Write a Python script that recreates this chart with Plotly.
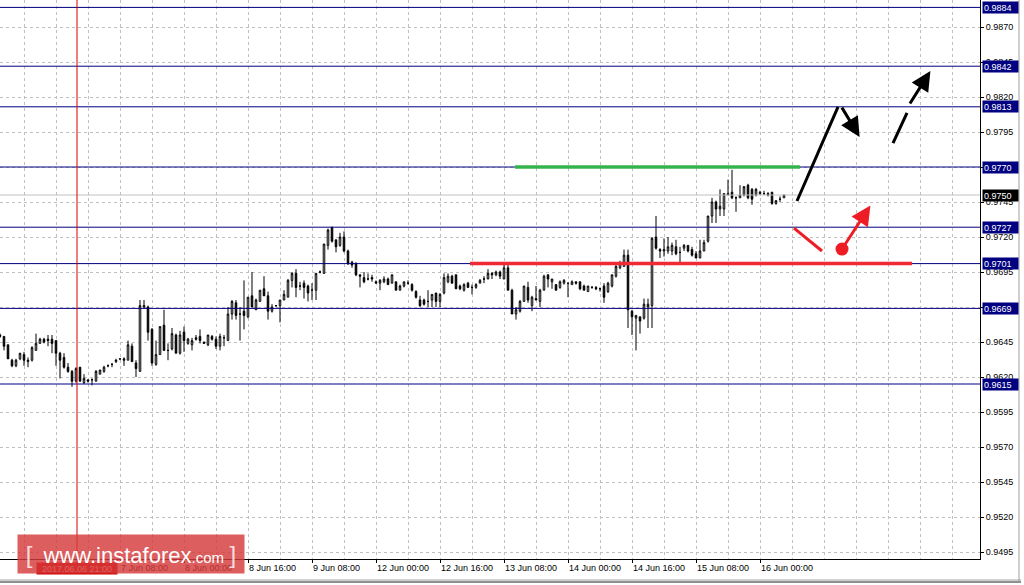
import plotly.graph_objects as go

# ---------------- data (H1 bars, index 0 = 6 Jun 00:00, weekend skipped) ----------------
bar_index = list(range(2, 199))

opens = [
    0.9650, 0.9649, 0.9643, 0.9632, 0.9628, 0.9633, 0.9636, 0.9631, 0.9632, 0.9639,
    0.9644, 0.9647, 0.9647, 0.9647, 0.9646, 0.9637, 0.9634, 0.9627, 0.9624, 0.9617,
    0.9627, 0.9616, 0.9618, 0.9618, 0.9617, 0.9622, 0.9624, 0.9628, 0.9629, 0.9631,
    0.9633, 0.9633, 0.9632, 0.9642, 0.9630, 0.9624, 0.9670, 0.9670, 0.9654, 0.9629,
    0.9636, 0.9657, 0.9639, 0.9640, 0.9650, 0.9637, 0.9652, 0.9644, 0.9643, 0.9648,
    0.9649, 0.9645, 0.9643, 0.9649, 0.9647, 0.9642, 0.9648, 0.9646, 0.9665, 0.9673,
    0.9665, 0.9667, 0.9663, 0.9678, 0.9668, 0.9674, 0.9683, 0.9678, 0.9667, 0.9671,
    0.9671, 0.9675, 0.9677, 0.9689, 0.9694, 0.9685, 0.9687, 0.9685, 0.9682, 0.9682,
    0.9695, 0.9694, 0.9714, 0.9727, 0.9718, 0.9714, 0.9720, 0.9710, 0.9702, 0.9701,
    0.9693, 0.9691, 0.9690, 0.9691, 0.9688, 0.9687, 0.9688, 0.9690, 0.9687,
    0.9688, 0.9682, 0.9685, 0.9687, 0.9686, 0.9681, 0.9675, 0.9675, 0.9674, 0.9675,
    0.9680, 0.9674, 0.9680, 0.9688, 0.9692, 0.9693, 0.9685, 0.9682, 0.9687, 0.9684,
    0.9684, 0.9687, 0.9690, 0.9690, 0.9694, 0.9693, 0.9695, 0.9690, 0.9698, 0.9682,
    0.9665, 0.9667, 0.9674, 0.9684, 0.9671, 0.9676, 0.9674, 0.9682, 0.9693, 0.9688,
    0.9686, 0.9684, 0.9687, 0.9687, 0.9686, 0.9688, 0.9688, 0.9685, 0.9681,
    0.9684, 0.9684, 0.9683, 0.9685, 0.9681, 0.9685, 0.9692, 0.9698, 0.9699, 0.9707,
    0.9667, 0.9662, 0.9663, 0.9662, 0.9670, 0.9671, 0.9720, 0.9711, 0.9710, 0.9710,
    0.9710, 0.9713, 0.9709, 0.9712, 0.9714, 0.9711, 0.9708, 0.9705, 0.9710, 0.9717,
    0.9735, 0.9745, 0.9740, 0.9740, 0.9750, 0.9752, 0.9748, 0.9748, 0.9750, 0.9757,
    0.9754, 0.9750, 0.9751, 0.9751, 0.9751, 0.9752, 0.9744, 0.9747, 0.9748,
]

highs = [
    0.9651, 0.9649, 0.9643, 0.9633, 0.9633, 0.9637, 0.9638, 0.9634, 0.9642, 0.9651,
    0.9648, 0.9648, 0.9650, 0.9650, 0.9646, 0.9638, 0.9637, 0.9630, 0.9625, 0.9627,
    0.9627, 0.9622, 0.9618, 0.9619, 0.9625, 0.9625, 0.9628, 0.9629, 0.9630, 0.9633,
    0.9633, 0.9634, 0.9646, 0.9644, 0.9632, 0.9675, 0.9675, 0.9671, 0.9655, 0.9646,
    0.9656, 0.9668, 0.9644, 0.9655, 0.9651, 0.9653, 0.9656, 0.9648, 0.9648, 0.9650,
    0.9654, 0.9645, 0.9650, 0.9650, 0.9649, 0.9651, 0.9650, 0.9670, 0.9675, 0.9675,
    0.9670, 0.9689, 0.9677, 0.9695, 0.9676, 0.9682, 0.9692, 0.9681, 0.9672, 0.9671,
    0.9675, 0.9682, 0.9690, 0.9695, 0.9697, 0.9688, 0.9689, 0.9686, 0.9687, 0.9694,
    0.9696, 0.9715, 0.9726, 0.9727, 0.9718, 0.9723, 0.9724, 0.9711, 0.9703, 0.9702,
    0.9693, 0.9695, 0.9694, 0.9693, 0.9689, 0.9690, 0.9692, 0.9691, 0.9693,
    0.9688, 0.9686, 0.9688, 0.9689, 0.9687, 0.9682, 0.9678, 0.9676, 0.9682, 0.9679,
    0.9680, 0.9680, 0.9694, 0.9694, 0.9693, 0.9693, 0.9686, 0.9687, 0.9688, 0.9686,
    0.9687, 0.9690, 0.9692, 0.9697, 0.9695, 0.9696, 0.9696, 0.9700, 0.9700, 0.9683,
    0.9670, 0.9675, 0.9685, 0.9688, 0.9678, 0.9685, 0.9683, 0.9693, 0.9693, 0.9690,
    0.9686, 0.9689, 0.9690, 0.9687, 0.9689, 0.9688, 0.9688, 0.9686, 0.9685,
    0.9685, 0.9685, 0.9684, 0.9687, 0.9688, 0.9693, 0.9701, 0.9703, 0.9711, 0.9711,
    0.9668, 0.9664, 0.9663, 0.9676, 0.9676, 0.9720, 0.9735, 0.9712, 0.9719, 0.9720,
    0.9716, 0.9718, 0.9713, 0.9715, 0.9714, 0.9713, 0.9710, 0.9718, 0.9718, 0.9735,
    0.9748, 0.9746, 0.9754, 0.9751, 0.9761, 0.9768, 0.9749, 0.9757, 0.9756, 0.9758,
    0.9755, 0.9755, 0.9753, 0.9753, 0.9752, 0.9752, 0.9746, 0.9749, 0.9750,
]

lows = [
    0.9648, 0.9639, 0.9633, 0.9627, 0.9627, 0.9632, 0.9628, 0.9627, 0.9631, 0.9639,
    0.9644, 0.9644, 0.9642, 0.9637, 0.9628, 0.9619, 0.9626, 0.9623, 0.9613, 0.9616,
    0.9617, 0.9615, 0.9616, 0.9614, 0.9617, 0.9622, 0.9623, 0.9627, 0.9627, 0.9630,
    0.9632, 0.9628, 0.9632, 0.9631, 0.9620, 0.9624, 0.9669, 0.9646, 0.9628, 0.9628,
    0.9636, 0.9639, 0.9632, 0.9639, 0.9637, 0.9636, 0.9638, 0.9643, 0.9639, 0.9646,
    0.9644, 0.9644, 0.9642, 0.9646, 0.9640, 0.9639, 0.9642, 0.9646, 0.9661, 0.9661,
    0.9646, 0.9654, 0.9662, 0.9670, 0.9668, 0.9674, 0.9678, 0.9661, 0.9666, 0.9670,
    0.9659, 0.9675, 0.9677, 0.9684, 0.9677, 0.9682, 0.9676, 0.9674, 0.9675, 0.9675,
    0.9694, 0.9694, 0.9711, 0.9716, 0.9709, 0.9713, 0.9709, 0.9700, 0.9698, 0.9692,
    0.9684, 0.9687, 0.9689, 0.9688, 0.9687, 0.9682, 0.9687, 0.9686, 0.9687,
    0.9682, 0.9682, 0.9684, 0.9686, 0.9681, 0.9676, 0.9670, 0.9671, 0.9670, 0.9670,
    0.9670, 0.9670, 0.9679, 0.9687, 0.9687, 0.9683, 0.9682, 0.9681, 0.9684, 0.9679,
    0.9683, 0.9687, 0.9687, 0.9690, 0.9690, 0.9692, 0.9690, 0.9690, 0.9682, 0.9665,
    0.9661, 0.9666, 0.9674, 0.9673, 0.9667, 0.9675, 0.9670, 0.9682, 0.9684, 0.9683,
    0.9682, 0.9683, 0.9686, 0.9677, 0.9686, 0.9686, 0.9682, 0.9682, 0.9681,
    0.9683, 0.9682, 0.9681, 0.9673, 0.9680, 0.9684, 0.9691, 0.9697, 0.9699, 0.9655,
    0.9650, 0.9639, 0.9651, 0.9661, 0.9655, 0.9655, 0.9711, 0.9705, 0.9706, 0.9708,
    0.9707, 0.9707, 0.9702, 0.9710, 0.9709, 0.9706, 0.9705, 0.9705, 0.9710, 0.9716,
    0.9730, 0.9730, 0.9735, 0.9735, 0.9750, 0.9747, 0.9738, 0.9748, 0.9749, 0.9747,
    0.9743, 0.9749, 0.9750, 0.9750, 0.9749, 0.9743, 0.9743, 0.9745, 0.9748,
]

closes = [
    0.9649, 0.9642, 0.9633, 0.9628, 0.9632, 0.9637, 0.9632, 0.9632, 0.9641, 0.9644,
    0.9647, 0.9645, 0.9646, 0.9644, 0.9637, 0.9632, 0.9627, 0.9624, 0.9617, 0.9626,
    0.9617, 0.9619, 0.9617, 0.9618, 0.9624, 0.9625, 0.9627, 0.9628, 0.9629, 0.9632,
    0.9633, 0.9632, 0.9643, 0.9631, 0.9626, 0.9671, 0.9671, 0.9652, 0.9630, 0.9636,
    0.9656, 0.9639, 0.9639, 0.9651, 0.9637, 0.9650, 0.9646, 0.9647, 0.9646, 0.9647,
    0.9646, 0.9644, 0.9650, 0.9647, 0.9642, 0.9649, 0.9648, 0.9665, 0.9674, 0.9664,
    0.9665, 0.9664, 0.9677, 0.9670, 0.9675, 0.9682, 0.9678, 0.9667, 0.9670, 0.9671,
    0.9675, 0.9679, 0.9689, 0.9694, 0.9684, 0.9685, 0.9684, 0.9680, 0.9682, 0.9694,
    0.9695, 0.9715, 0.9725, 0.9717, 0.9713, 0.9720, 0.9710, 0.9701, 0.9700, 0.9693,
    0.9692, 0.9688, 0.9690, 0.9690, 0.9687, 0.9689, 0.9690, 0.9686, 0.9693,
    0.9682, 0.9685, 0.9688, 0.9687, 0.9682, 0.9677, 0.9671, 0.9672, 0.9674, 0.9679,
    0.9674, 0.9679, 0.9691, 0.9692, 0.9687, 0.9683, 0.9683, 0.9686, 0.9684, 0.9684,
    0.9686, 0.9689, 0.9690, 0.9694, 0.9693, 0.9695, 0.9692, 0.9698, 0.9682, 0.9665,
    0.9668, 0.9674, 0.9685, 0.9675, 0.9677, 0.9675, 0.9682, 0.9692, 0.9690, 0.9690,
    0.9682, 0.9688, 0.9689, 0.9687, 0.9688, 0.9687, 0.9683, 0.9682, 0.9685,
    0.9684, 0.9683, 0.9683, 0.9677, 0.9687, 0.9693, 0.9699, 0.9701, 0.9707, 0.9668,
    0.9663, 0.9664, 0.9660, 0.9672, 0.9672, 0.9719, 0.9712, 0.9710, 0.9711, 0.9713,
    0.9714, 0.9708, 0.9709, 0.9714, 0.9710, 0.9707, 0.9705, 0.9710, 0.9716, 0.9735,
    0.9745, 0.9740, 0.9742, 0.9751, 0.9751, 0.9748, 0.9748, 0.9750, 0.9756, 0.9748,
    0.9747, 0.9754, 0.9752, 0.9751, 0.9750, 0.9744, 0.9746, 0.9747, 0.9750,
]

# horizontal levels (navy boxes on the price scale)
levels = [0.9884, 0.9842, 0.9813, 0.9770, 0.9727, 0.9701, 0.9669, 0.9615]
bid_price = 0.9750

# price scale ticks
y_ticks = [0.9495, 0.9520, 0.9545, 0.9570, 0.9595, 0.9620, 0.9645, 0.9670,
           0.9695, 0.9720, 0.9745, 0.9770, 0.9795, 0.9820, 0.9845, 0.9870]

# time scale ticks (bar index) and labels
x_tick_index = [32, 48, 64, 80, 96, 112, 128, 144, 160, 176, 192]
x_tick_text = ["7 Jun 08:00", "8 Jun 00:00", "8 Jun 16:00", "9 Jun 08:00",
               "12 Jun 00:00", "12 Jun 16:00", "13 Jun 08:00", "14 Jun 00:00",
               "14 Jun 16:00", "15 Jun 08:00", "16 Jun 00:00"]
first_label_index = 0
first_label_text = "6 Jun 00:00"

crosshair_index = 21.25
crosshair_text = "2017.06.06 21:00"

# drawn analysis objects (bar index, price)
green_seg_x = [130.75, 202.0]
green_seg_y = [0.9770, 0.9770]
red_seg_x = [119.5, 230.0]
red_seg_y = [0.9701, 0.9701]
black_up_x = [201.25, 211.5]
black_up_y = [0.97457, 0.98129]
black_down_arrow = dict(tail=(212.25, 0.98135), tip=(216.9, 0.97915))
dash_seg_x = [225.25, 228.75]
dash_seg_y = [0.97871, 0.98086]
dash_arrow = dict(tail=(229.25, 0.98143), tip=(234.6, 0.98385))
red_down_x = [200.5, 207.5]
red_down_y = [0.97264, 0.97100]
red_dot = (212.5, 0.97114)
red_arrow_tip = (219.6, 0.97425)

# ---------------- figure ----------------
X_RANGE = [2, 247]
Y_RANGE = [0.9490, 0.988929]
GRID = "#c0c0c0"
NAVY = "#000080"
FONT = "Liberation Sans"

fig = go.Figure()

fig.add_trace(go.Candlestick(
    x=bar_index, open=opens, high=highs, low=lows, close=closes,
    increasing=dict(line=dict(color="black", width=1), fillcolor="white"),
    decreasing=dict(line=dict(color="black", width=1), fillcolor="black"),
    whiskerwidth=0, hoverinfo="skip", showlegend=False,
))

# bid line and level lines (full width, drawn through the axis scale)
fig.add_trace(go.Scatter(x=X_RANGE, y=[bid_price, bid_price], mode="lines",
                         line=dict(color="#c0c0c0", width=1), hoverinfo="skip", showlegend=False))
for lev in levels:
    fig.add_trace(go.Scatter(x=X_RANGE, y=[lev, lev], mode="lines",
                             line=dict(color=NAVY, width=1), hoverinfo="skip", showlegend=False))

# analysis lines
fig.add_trace(go.Scatter(x=green_seg_x, y=green_seg_y, mode="lines",
                         line=dict(color="#34b44a", width=3.5), hoverinfo="skip", showlegend=False))
fig.add_trace(go.Scatter(x=red_seg_x, y=red_seg_y, mode="lines",
                         line=dict(color="#ee2a32", width=3.5), hoverinfo="skip", showlegend=False))
fig.add_trace(go.Scatter(x=black_up_x, y=black_up_y, mode="lines",
                         line=dict(color="black", width=3), hoverinfo="skip", showlegend=False))
fig.add_trace(go.Scatter(x=dash_seg_x, y=dash_seg_y, mode="lines",
                         line=dict(color="black", width=3), hoverinfo="skip", showlegend=False))
fig.add_trace(go.Scatter(x=red_down_x, y=red_down_y, mode="lines",
                         line=dict(color="#ee1c24", width=3), hoverinfo="skip", showlegend=False))
fig.add_trace(go.Scatter(x=[red_dot[0]], y=[red_dot[1]], mode="markers",
                         marker=dict(color="#ee1c24", size=13), hoverinfo="skip", showlegend=False))

shapes = []
# crosshair
shapes.append(dict(type="line", xref="x", x0=crosshair_index, x1=crosshair_index,
                   yref="paper", y0=-0.012, y1=1, line=dict(color="#d40000", width=1), layer="above"))
# window frame
shapes.append(dict(type="line", xref="paper", x0=1019 / 980, x1=1019 / 980, yref="paper",
                   y0=1, y1=(559 - 581) / 559, line=dict(color="#a0a0a0", width=1)))
shapes.append(dict(type="line", xref="paper", x0=0, x1=1021 / 980, yref="paper",
                   y0=(559 - 580) / 559, y1=(559 - 580) / 559, line=dict(color="#a0a0a0", width=1)))
shapes.append(dict(type="line", xref="paper", x0=0, x1=1021 / 980, yref="paper",
                   y0=(559 - 582) / 559, y1=(559 - 582) / 559, line=dict(color="#202020", width=1)))

annotations = []
# level boxes
for lev in levels:
    annotations.append(dict(xref="paper", x=1, xanchor="left", xshift=2, yref="y", y=lev,
                            yanchor="middle", text=f"{lev:.4f}", showarrow=False, align="left",
                            bgcolor=NAVY, font=dict(family=FONT, size=9, color="white"),
                            width=33, height=9, borderpad=1))
annotations.append(dict(xref="paper", x=1, xanchor="left", xshift=2, yref="y", y=bid_price,
                        yanchor="middle", text=f"{bid_price:.4f}", showarrow=False, align="left",
                        bgcolor="black", font=dict(family=FONT, size=9, color="white"),
                        width=33, height=9, borderpad=1))
# first partially visible time label
annotations.append(dict(xref="x", x=first_label_index, xanchor="left", xshift=1, yref="paper",
                        y=0, yanchor="top", yshift=-5, text=first_label_text, showarrow=False,
                        font=dict(family=FONT, size=9, color="black")))
# crosshair date box
annotations.append(dict(xref="x", x=crosshair_index, xanchor="center", yref="paper", y=0,
                        yanchor="top", yshift=-3, text=crosshair_text, showarrow=False,
                        bgcolor="#d00000", font=dict(family=FONT, size=9, color="white"),
                        width=78, height=9, borderpad=1))
# arrows
annotations.append(dict(x=black_down_arrow["tip"][0], y=black_down_arrow["tip"][1],
                        ax=black_down_arrow["tail"][0], ay=black_down_arrow["tail"][1],
                        xref="x", yref="y", axref="x", ayref="y", text="", showarrow=True,
                        arrowhead=2, arrowsize=1.3, arrowwidth=3, arrowcolor="black", standoff=0))
annotations.append(dict(x=dash_arrow["tip"][0], y=dash_arrow["tip"][1],
                        ax=dash_arrow["tail"][0], ay=dash_arrow["tail"][1],
                        xref="x", yref="y", axref="x", ayref="y", text="", showarrow=True,
                        arrowhead=2, arrowsize=1.3, arrowwidth=3, arrowcolor="black", standoff=0))
annotations.append(dict(x=red_arrow_tip[0], y=red_arrow_tip[1],
                        ax=red_dot[0], ay=red_dot[1],
                        xref="x", yref="y", axref="x", ayref="y", text="", showarrow=True,
                        arrowhead=2, arrowsize=1.3, arrowwidth=3, arrowcolor="#ee1c24", standoff=0))
# watermark
annotations.append(dict(
    xref="paper", x=17 / 980, xanchor="left", yref="paper", y=(559 - 534) / 559, yanchor="top",
    text=('<span style="font-size:24px;color:rgba(255,255,255,0.8)">[</span>&nbsp;&nbsp;'
          '<span style="font-size:22px">www.instaforex</span>'
          '<span style="font-size:15px">.com</span>&nbsp;'
          '<span style="font-size:24px;color:rgba(255,255,255,0.8)">]</span>'),
    showarrow=False, bgcolor="rgba(214,58,58,0.82)",
    font=dict(family="Liberation Sans", size=20, color="white"),
    width=224, height=36, borderpad=1, align="center", valign="middle"))

fig.update_layout(
    width=1024, height=585,
    margin=dict(l=0, r=44, t=0, b=26, pad=0),
    paper_bgcolor="white", plot_bgcolor="white",
    showlegend=False, boxgap=0.45,
    shapes=shapes, annotations=annotations,
    font=dict(family=FONT, size=9, color="black"),
    xaxis=dict(
        range=X_RANGE, rangeslider=dict(visible=False), tickmode="array",
        tickvals=x_tick_index, ticktext=x_tick_text, ticklabelposition="outside right",
        ticks="outside", ticklen=3, tickcolor="black",
        showgrid=True, gridcolor=GRID, griddash="3px,3px", gridwidth=1,
        minor=dict(tickmode="array", tickvals=list(range(0, 248, 8)), showgrid=True,
                   gridcolor=GRID, griddash="3px,3px", gridwidth=1, ticks=""),
        showline=True, linecolor="black", linewidth=1, zeroline=False,
        tickfont=dict(family=FONT, size=9, color="black"), fixedrange=True,
    ),
    yaxis=dict(
        side="right", range=Y_RANGE, tickmode="array", tickvals=y_ticks,
        ticktext=[f"{v:.4f}" for v in y_ticks],
        ticks="outside", ticklen=3, tickcolor="black",
        showgrid=True, gridcolor=GRID, griddash="3px,3px", gridwidth=1,
        showline=True, linecolor="black", linewidth=1, zeroline=False,
        tickfont=dict(family=FONT, size=9, color="black"), fixedrange=True,
    ),
)

fig.write_html("out.html", config={"displayModeBar": False},
               post_script="document.body.style.margin='0';document.body.style.overflow='hidden';")
